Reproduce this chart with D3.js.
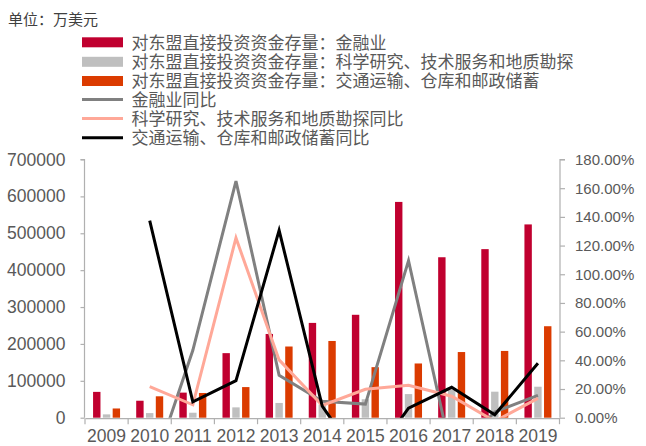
<!DOCTYPE html>
<html>
<head>
<meta charset="utf-8">
<script src="https://cdn.jsdelivr.net/npm/d3@7"></script>
<style>
  html, body { margin: 0; padding: 0; background: #fff; }
  svg { display: block; }
</style>
</head>
<body>
<svg id="chart" width="646" height="446"></svg>
<script>
// Years on the category axis
const years = ["2009", "2010", "2011", "2012", "2013", "2014", "2015", "2016", "2017", "2018", "2019"];

// Outward FDI stock in ASEAN by industry (万美元)
const financeStock   = [70000, 46000, 68000, 175000, 227000, 257000, 279000, 585000, 435000, 457000, 524000];
const researchStock  = [9000, 12500, 13500, 28000, 40000, 36000, 50000, 64000, 76000, 70500, 84000];
const transportStock = [25000, 58000, 67000, 83000, 193000, 208000, 137000, 147000, 178000, 181000, 248000];

// Year-on-year growth (%)
const financeYoY   = [null, -42, 47, 165, 29.6, 11.5, 9.5, 109.5, -26, 4, 15.5];
const researchYoY  = [null, 21.6, 9, 125.3, 40.3, 8.5, 19.8, 22.6, 15, -2.5, 13.5];
const transportYoY = [null, 137.4, 11, 25.8, 130.6, 8, -35, 6.6, 21.2, 2, 38];

// Axis ticks
const leftTicks  = [0, 100000, 200000, 300000, 400000, 500000, 600000, 700000];
const rightTicks = [0, 20, 40, 60, 80, 100, 120, 140, 160, 180];

// Labels
const unitLabel = "单位：万美元";
const barNames  = [
  "对东盟直接投资资金存量：金融业",
  "对东盟直接投资资金存量：科学研究、技术服务和地质勘探",
  "对东盟直接投资资金存量：交通运输、仓库和邮政储蓄"
];
const lineNames = [
  "金融业同比",
  "科学研究、技术服务和地质勘探同比",
  "交通运输、仓库和邮政储蓄同比"
];

const barColors  = ["#c0002f", "#bfbfbf", "#db3b00"];
const lineColors = ["#808080", "#ffa898", "#000000"];

const svg = d3.select("#chart");
const plot = { left: 85, right: 559.5, top: 159.5, bottom: 417.7 };
const axisColor = "#b0b0b0";
const labelColor = "#595959";
const numFont = "'Liberation Sans', Arial, sans-serif";
const cjkFont = "'Noto Sans CJK SC', 'Noto Sans', sans-serif";

const x = d3.scaleBand().domain(years).range([plot.left, plot.right]).padding(0);
const yLeft = d3.scaleLinear().domain([0, 700000]).range([plot.bottom, plot.top]);
const yRight = d3.scaleLinear().domain([0, 180]).range([plot.bottom, plot.top]);

const seriesKeys = [0, 1, 2];
const inner = d3.scaleBand().domain(seriesKeys).range([-14.7, 14.7])
  .paddingInner(0.245).paddingOuter(0.1225);

// Unit label
svg.append("text")
  .attr("x", 8).attr("y", 25)
  .attr("font-family", cjkFont).attr("font-size", 15)
  .attr("fill", "#404040")
  .text(unitLabel);

// Bars
const stocks = [financeStock, researchStock, transportStock];
stocks.forEach((vals, si) => {
  svg.append("g").selectAll("rect")
    .data(years.map((yr, i) => ({ yr, v: vals[i] })))
    .join("rect")
    .attr("x", d => x(d.yr) + x.bandwidth() / 2 + inner(si))
    .attr("width", inner.bandwidth())
    .attr("y", d => yLeft(d.v))
    .attr("height", d => yLeft(0) - yLeft(d.v))
    .attr("fill", barColors[si]);
});

// Lines, clipped to the plot area
svg.append("defs").append("clipPath").attr("id", "plotClip")
  .append("rect")
  .attr("x", plot.left).attr("y", plot.top - 5)
  .attr("width", plot.right - plot.left + 2)
  .attr("height", plot.bottom - plot.top + 5);

const lineGen = d3.line()
  .defined(d => d.v !== null)
  .x(d => x(d.yr) + x.bandwidth() / 2)
  .y(d => yRight(d.v));

const yoys = [financeYoY, researchYoY, transportYoY];
const lineLayer = svg.append("g").attr("clip-path", "url(#plotClip)");
yoys.forEach((vals, li) => {
  lineLayer.append("path")
    .datum(years.map((yr, i) => ({ yr, v: vals[i] })))
    .attr("d", lineGen)
    .attr("fill", "none")
    .attr("stroke", lineColors[li])
    .attr("stroke-width", 3)
    .attr("stroke-linejoin", "miter");
});

// Left axis
const leftAxis = svg.append("g").attr("transform", `translate(${plot.left - 0.5},0)`)
  .call(d3.axisLeft(yLeft).tickValues(leftTicks).tickSize(4).tickPadding(15)
    .tickFormat(d3.format("d")));
// Right axis
const rightAxis = svg.append("g").attr("transform", `translate(${plot.right + 0.5},0)`)
  .call(d3.axisRight(yRight).tickValues(rightTicks).tickSize(5).tickPadding(10)
    .tickFormat(d => d3.format(".2f")(d) + "%"));
// Bottom axis with ticks at category boundaries
const bottomAxis = svg.append("g").attr("transform", `translate(0,${plot.bottom + 0.5})`)
  .call(d3.axisBottom(x).tickSize(0).tickPadding(0));

[leftAxis, rightAxis, bottomAxis].forEach(g => {
  g.select(".domain").attr("stroke", axisColor).attr("stroke-width", 1.2);
  g.selectAll(".tick line").attr("stroke", axisColor).attr("stroke-width", 1.2);
  g.selectAll("text").attr("fill", labelColor).attr("font-family", numFont);
});
leftAxis.select(".domain").attr("d", `M-4,${plot.top}H0V${plot.bottom}`);
rightAxis.select(".domain").attr("d", `M5,${plot.top}H0V${plot.bottom}`);
leftAxis.selectAll("text").attr("font-size", 17.5);
rightAxis.selectAll("text").attr("font-size", 15);
bottomAxis.selectAll("text").attr("font-size", 17.5).attr("dy", null).attr("y", 24);

const boundaries = years.map(yr => x(yr)).concat([plot.right]);
bottomAxis.selectAll(".boundary").data(boundaries).join("line")
  .attr("class", "boundary")
  .attr("x1", d => d).attr("x2", d => d)
  .attr("y1", 0).attr("y2", 6)
  .attr("stroke", axisColor).attr("stroke-width", 1.2);

// Legend
const legend = svg.append("g");
const rowY = [42.3, 61.8, 81, 99.5, 118.6, 137.7];
const swX = 82, swW = 41, textX = 131.5;
barNames.forEach((name, i) => {
  legend.append("rect")
    .attr("x", swX).attr("y", rowY[i] - 5)
    .attr("width", swW).attr("height", 10)
    .attr("fill", barColors[i]);
  legend.append("text")
    .attr("x", textX).attr("y", rowY[i] + 6.3)
    .attr("font-family", cjkFont).attr("font-size", 17)
    .attr("fill", labelColor)
    .text(name);
});
lineNames.forEach((name, j) => {
  const i = j + 3;
  legend.append("line")
    .attr("x1", swX).attr("x2", swX + swW)
    .attr("y1", rowY[i]).attr("y2", rowY[i])
    .attr("stroke", lineColors[j]).attr("stroke-width", 3);
  legend.append("text")
    .attr("x", textX).attr("y", rowY[i] + 6.3)
    .attr("font-family", cjkFont).attr("font-size", 17)
    .attr("fill", labelColor)
    .text(name);
});
</script>
</body>
</html>
